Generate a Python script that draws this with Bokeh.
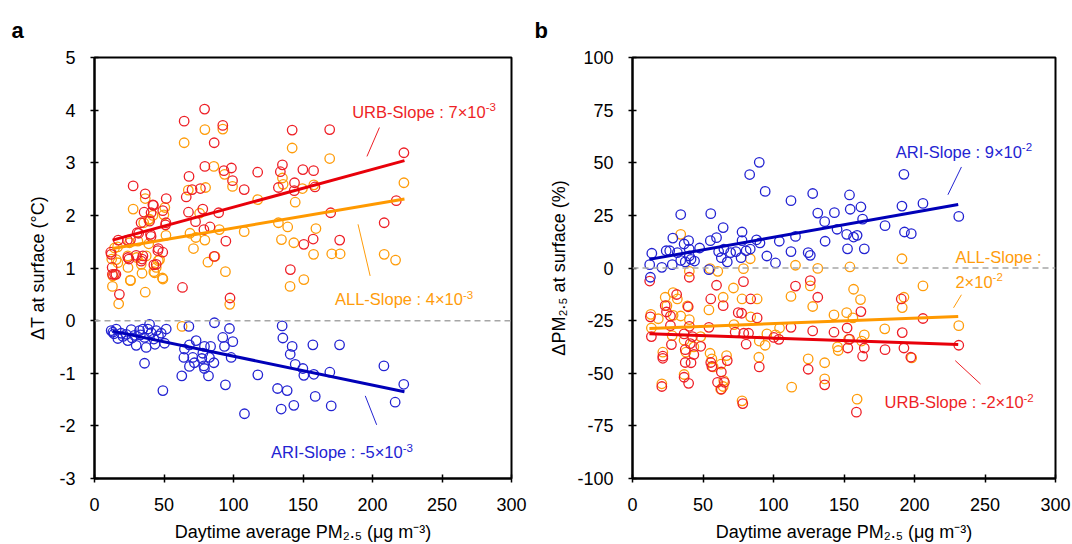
import math
from bokeh.plotting import figure
from bokeh.layouts import row
from bokeh.models import Label, Span, FixedTicker, Range1d
from bokeh.embed import file_html
from bokeh.resources import INLINE

# ---------------- data: panel a (Delta T at surface) ----------------
a_urb_x = [79.2, 64.5, 92.3, 142.2, 169.2, 86.1, 222.6, 27.8, 79.4, 98.5,
           93.1, 135.2, 133.7, 149.9, 157.6, 117.4, 99.3, 107.7, 68.0, 70.2,
           66.0, 76.2, 132.3, 143.9, 143.7, 158.6, 36.5, 51.6, 42.4, 35.7,
           40.7, 49.1, 67.6, 77.9, 89.3, 72.7, 169.9, 208.4, 217.1, 51.4,
           33.5, 78.7, 83.1, 40.7, 31.8, 17.1, 94.5, 150.6, 157.3, 176.4,
           23.6, 45.9, 49.1, 11.7, 34.2, 24.8, 86.1, 42.7, 12.7, 140.9,
           12.9, 15.4, 17.9, 63.3, 97.5, 42.0, 39.6, 30.7, 25.9, 51.1,
           40.3, 24.0, 34.8, 45.6, 44.4, 14.4, 33.6, 30.0, 12.0]
a_urb_y = [4.02, 3.79, 3.71, 3.62, 3.63, 3.38, 3.19, 2.56, 2.93, 2.90,
           2.85, 2.96, 2.83, 2.87, 2.85, 2.82, 2.66, 2.49, 2.74, 2.49,
           2.35, 2.51, 2.53, 2.62, 2.47, 2.54, 2.41, 2.32, 2.19, 2.06,
           2.05, 2.09, 2.06, 2.12, 2.05, 1.88, 2.05, 1.86, 2.28, 1.86,
           1.86, 1.73, 1.78, 1.60, 1.66, 1.53, 1.51, 1.45, 1.55, 1.53,
           1.53, 1.37, 1.30, 1.30, 1.17, 1.17, 1.22, 1.06, 1.01, 0.97,
           0.88, 0.88, 0.50, 0.63, 0.43, 2.20, 1.89, 1.67, 1.54, 1.82,
           1.64, 1.20, 1.23, 1.33, 1.07, 0.88, 1.13, 1.24, 1.26]

a_all_x = [64.5, 79.4, 92.3, 142.2, 169.2, 222.6, 85.9, 93.6, 99.3, 135.2,
           135.7, 149.6, 157.8, 67.5, 79.9, 117.4, 144.4, 27.8, 36.5, 50.6,
           39.0, 35.4, 49.9, 68.7, 75.6, 89.8, 107.7, 132.3, 139.0, 159.3,
           134.5, 143.4, 157.6, 170.7, 176.7, 208.4, 216.6, 71.2, 79.4, 72.9,
           81.6, 86.6, 51.4, 45.9, 42.7, 34.2, 25.8, 48.9, 12.9, 36.5,
           17.4, 97.3, 94.2, 140.7, 150.6, 63.0, 12.4, 16.6, 24.1, 30.3,
           39.0, 42.0, 39.6, 14.4, 15.6, 25.2, 31.2, 24.0, 37.2, 46.8,
           16.8, 33.6, 44.4, 25.9, 43.2, 49.2, 13.2]
a_all_y = [3.38, 3.63, 3.64, 3.28, 3.08, 2.62, 2.93, 2.78, 2.55, 2.71,
           2.59, 2.51, 2.58, 2.48, 2.53, 2.30, 2.25, 2.12, 2.32, 2.15,
           1.92, 1.86, 2.01, 1.66, 2.04, 1.73, 1.69, 1.86, 1.78, 1.75,
           1.54, 1.48, 1.26, 1.27, 1.27, 1.26, 1.15, 1.37, 1.53, 1.58,
           1.11, 1.22, 1.62, 1.14, 0.93, 0.90, 0.77, 0.81, 0.65, 0.54,
           0.32, 0.31, 0.93, 0.65, 0.78, -0.11, 1.17, 1.40, 1.01, 1.20,
           1.46, 2.00, 1.93, 1.38, 1.16, 1.48, 1.51, 1.23, 1.23, 1.16,
           1.10, 1.07, 1.01, 0.76, 0.91, 0.79, 0.85]

a_ari_x = [12.0, 13.2, 15.6, 16.8, 19.2, 22.8, 24.0, 26.4, 28.8, 30.0,
           32.4, 34.8, 36.0, 37.2, 38.4, 39.6, 40.8, 42.7, 44.4, 48.0,
           50.4, 51.6, 36.0, 49.2, 67.9, 86.3, 97.1, 92.3, 99.5, 73.1,
           68.3, 79.1, 83.5, 93.5, 64.7, 77.9, 64.3, 70.7, 77.2, 82.7,
           98.3, 85.9, 71.9, 68.3, 78.7, 79.1, 62.8, 82.0, 94.2, 117.5,
           107.9, 135.0, 135.5, 142.2, 157.1, 176.3, 140.8, 144.4, 149.9, 150.6,
           157.8, 169.3, 208.2, 222.5, 131.7, 138.6, 158.8, 143.4, 134.3, 170.3,
           216.3, 14.0, 20.5, 27.0, 33.0, 46.0, 43.5]
a_ari_y = [-0.19, -0.22, -0.16, -0.34, -0.24, -0.26, -0.38, -0.17, -0.28, -0.47,
           -0.19, -0.16, -0.32, -0.51, -0.16, -0.07, -0.23, -0.35, -0.19, -0.24,
           -0.43, -0.16, -0.81, -1.33, -0.11, -0.04, -0.15, -0.32, -0.40, -0.38,
           -0.46, -0.49, -0.49, -0.49, -0.54, -0.62, -0.70, -0.70, -0.72, -0.70,
           -0.70, -0.80, -0.80, -0.87, -0.86, -0.91, -1.05, -1.05, -1.22, -1.03,
           -1.77, -0.10, -0.33, -0.49, -0.46, -0.46, -0.64, -0.83, -0.91, -1.04,
           -1.02, -0.98, -0.86, -1.21, -1.29, -1.33, -1.44, -1.61, -1.68, -1.62,
           -1.55, -0.25, -0.30, -0.33, -0.27, -0.29, -0.45]

# fitted lines, panel a (end points)
a_fit_x = [13, 223]
a_fit_urb = [1.53, 3.04]
a_fit_all = [1.37, 2.31]
a_fit_ari = [-0.20, -1.35]

# ---------------- data: panel b (Delta PM2.5 at surface) ----------------
b_ari_x = [89.9, 83.1, 192.5, 94.1, 127.8, 153.9, 112.4, 206.0, 191.1, 162.0,
           154.4, 131.4, 143.2, 34.2, 55.5, 231.4, 163.2, 136.3, 179.1, 145.1,
           64.3, 192.9, 197.7, 77.7, 151.9, 159.3, 156.8, 115.6, 59.6, 28.6,
           55.2, 39.8, 88.0, 136.6, 104.1, 90.4, 77.7, 13.7, 23.9, 26.4,
           36.6, 40.2, 47.6, 31.8, 112.4, 152.5, 164.4, 124.6, 126.1, 95.3,
           61.1, 64.8, 69.6, 73.3, 77.0, 80.6, 83.5, 63.0, 67.2, 101.4,
           12.2, 20.8, 28.2, 37.4, 44.0, 54.2, 12.7, 40.3, 41.5, 34.2]
b_ari_y = [50.2, 44.4, 44.5, 36.4, 35.4, 34.7, 32.0, 30.7, 29.4, 29.0,
           27.9, 26.1, 26.3, 25.4, 25.8, 24.5, 23.2, 22.0, 20.1, 18.4,
           19.2, 17.1, 16.3, 17.1, 16.0, 15.5, 14.7, 15.0, 14.4, 14.2,
           13.0, 13.0, 13.4, 12.7, 12.7, 11.9, 13.0, 7.0, 8.2, 8.2,
           11.4, 9.0, 9.5, 7.3, 7.8, 9.1, 9.1, 7.3, 6.0, 5.7,
           7.8, 9.0, 7.3, 7.8, 4.9, 8.2, 9.0, 4.9, 2.9, 2.4,
           1.6, 0.3, 1.6, 2.9, 3.3, -0.8, -4.4, 5.7, 4.1, 3.6]

b_all_x = [34.2, 83.5, 191.1, 115.6, 154.2, 131.4, 55.0, 78.7, 60.5, 40.3,
           126.1, 206.0, 156.8, 71.6, 28.8, 23.2, 31.8, 64.3, 77.7, 88.4,
           112.4, 161.7, 192.5, 191.3, 127.8, 24.4, 54.2, 28.8, 13.0, 39.0,
           34.2, 40.3, 18.3, 142.9, 151.9, 156.3, 231.4, 178.9, 104.3, 72.0,
           83.8, 48.4, 95.3, 101.4, 164.4, 162.5, 153.2, 89.9, 94.1, 13.4,
           28.1, 36.6, 43.5, 145.4, 145.9, 198.0, 89.6, 124.6, 55.0, 56.3,
           66.7, 62.8, 136.3, 37.9, 21.5, 36.6, 136.3, 57.2, 20.8, 64.7,
           64.3, 112.9, 77.7, 159.3, 62.5]
b_all_y = [16.0, 4.4, 4.4, 1.3, 0.5, -0.2, -0.3, -0.3, -1.6, -1.6,
           -8.5, -8.5, -10.1, -9.5, -11.7, -13.9, -14.7, -13.9, -14.7, -14.7,
           -13.5, -15.0, -13.9, -18.8, -18.3, -17.9, -19.9, -22.5, -22.0, -18.0,
           -22.8, -24.5, -24.1, -22.3, -21.2, -23.7, -27.4, -28.9, -28.5, -26.9,
           -23.2, -32.6, -31.3, -31.8, -31.8, -34.7, -33.9, -34.7, -36.7, -28.5,
           -32.1, -34.3, -37.5, -37.5, -39.2, -42.7, -42.4, -43.2, -40.5, -43.2,
           -41.6, -45.7, -45.0, -40.0, -40.0, -50.6, -52.7, -47.0, -55.0, -53.5,
           -56.3, -56.6, -63.1, -62.3, -57.6]

b_urb_x = [12.2, 40.3, 78.7, 126.1, 59.6, 115.6, 31.3, 55.5, 83.8, 131.4,
           190.6, 64.3, 23.2, 39.5, 24.1, 162.0, 77.4, 75.0, 88.4, 12.7,
           26.9, 206.0, 112.4, 54.2, 26.9, 40.3, 152.2, 72.8, 78.9, 82.3,
           127.8, 142.9, 191.3, 13.4, 36.6, 42.5, 100.2, 103.8, 153.9, 231.4,
           27.6, 80.6, 41.0, 48.4, 152.7, 164.4, 179.1, 192.5, 37.4, 43.5,
           197.4, 163.2, 21.5, 21.5, 41.5, 37.4, 67.2, 55.5, 56.3, 89.9,
           124.6, 63.0, 36.6, 60.3, 39.8, 65.2, 136.3, 20.8, 63.0, 78.2,
           158.8]
b_urb_y = [-6.2, -4.4, -6.5, -6.0, -8.2, -8.6, -12.6, -14.7, -14.7, -13.9,
           -14.7, -17.9, -17.9, -18.4, -20.9, -20.7, -21.5, -21.2, -23.7, -23.2,
           -22.8, -24.0, -28.2, -28.2, -27.4, -27.7, -28.5, -30.5, -31.0, -31.0,
           -29.9, -30.5, -30.7, -32.6, -31.3, -32.6, -33.0, -33.9, -33.8, -36.7,
           -36.4, -36.2, -35.9, -37.2, -38.0, -38.0, -38.8, -38.0, -38.8, -41.1,
           -42.4, -41.9, -41.9, -42.9, -45.0, -44.9, -44.0, -44.9, -46.8, -47.0,
           -48.1, -49.4, -51.9, -54.3, -54.8, -54.3, -55.5, -56.3, -57.6, -64.4,
           -68.5]

b_fit_x = [12, 231]
b_fit_ari = [4.1, 30.2]
b_fit_all = [-28.7, -23.0]
b_fit_urb = [-31.2, -36.4]

# ticks and axis titles
x_ticks = [0, 50, 100, 150, 200, 250, 300]
a_y_ticks = [-3, -2, -1, 0, 1, 2, 3, 4, 5]
b_y_ticks = [-100, -75, -50, -25, 0, 25, 50, 75, 100]
x_title = "Daytime average PM\u2082.\u2085 (\u03bcg m\u207b\u00b3)"
a_y_title = "\u0394T at surface (\u00b0C)"
b_y_title = "\u0394PM\u2082.\u2085 at surface (%)"

# annotations (text, exponent, anchor x/y in data units)
a_note_text = ["URB-Slope : 7\u00d710", "ALL-Slope : 4\u00d710", "ARI-Slope : -5\u00d710"]
a_note_exp = ["-3", "-3", "-3"]
a_note_x = [185.4, 173.0, 127.0]
a_note_y = [3.87, 0.31, -2.60]
a_lead_x0 = [205.0, 189.6, 194.8]
a_lead_y0 = [3.67, 1.83, -1.43]
a_lead_x1 = [196.0, 198.3, 203.0]
a_lead_y1 = [3.12, 0.85, -1.98]

b_note_text = ["ARI-Slope : 9\u00d710", "ALL-Slope :", "2\u00d710", "URB-Slope : -2\u00d710"]
b_note_exp = ["-2", "", "-2", "-2"]
b_note_x = [186.7, 229.0, 229.0, 178.8]
b_note_y = [52.9, 3.0, -8.8, -66.1]
b_lead_x0 = [233.3, 233.3, 228.9]
b_lead_y0 = [48.0, -12.7, -44.0]
b_lead_x1 = [223.7, 227.7, 246.8]
b_lead_y1 = [34.8, -18.9, -55.1]

# ---------------- styling ----------------
FONT = "Liberation Sans"
RED = "#ee1f26"
ORANGE = "#ff9c0a"
BLUE = "#2323d2"
RED_LINE = "#e8000a"
ORANGE_LINE = "#ff9900"
BLUE_LINE = "#0000b8"
GREY = "#a6a6a6"
NOTE_SIZE = 16.5
EXP_SIZE = 11.5
NOTE_DY = -5

W = {' ': 278, '(': 333, ')': 333, '-': 333, '.': 278, ':': 278, '%': 889,
     '\u00b0': 400, '\u00d7': 584, '\u0394': 668, '\u03bc': 576,
     'A': 667, 'B': 667, 'C': 722, 'D': 722, 'E': 667, 'I': 278, 'L': 556,
     'M': 833, 'P': 667, 'R': 722, 'S': 667, 'T': 611, 'U': 722,
     'a': 556, 'c': 500, 'e': 556, 'f': 278, 'g': 556, 'i': 222, 'l': 222,
     'm': 833, 'o': 556, 'p': 556, 'r': 333, 's': 500, 't': 278, 'u': 556,
     'v': 500, 'y': 500}


def tw(s, size):
    return sum(W.get(c, 556) for c in s) * size / 1000.0


FIG_H = 544
BORDER_TOP = 56
BORDER_BOTTOM = 66


class Frame:
    def __init__(self, border_left, frame_w, xr, yr):
        self.left = border_left
        self.top = BORDER_TOP
        self.w = frame_w
        self.h = FIG_H - BORDER_TOP - BORDER_BOTTOM
        self.xr = xr
        self.yr = yr

    def x(self, px):
        return self.xr[0] + (px - self.left) / self.w * (self.xr[1] - self.xr[0])

    def y(self, py):
        return self.yr[1] - (py - self.top) / self.h * (self.yr[1] - self.yr[0])

    def px(self, x):
        return self.left + (x - self.xr[0]) / (self.xr[1] - self.xr[0]) * self.w

    def py(self, y):
        return self.top + (self.yr[1] - y) / (self.yr[1] - self.yr[0]) * self.h


def make_fig(fig_w, border_left, frame_w, xr, yr, yticks,
             xtitle, ytitle, ystandoff, letter, letter_offset):
    p = figure(width=fig_w, height=FIG_H, x_range=Range1d(*xr), y_range=Range1d(*yr),
               output_backend="svg", toolbar_location=None,
               min_border_left=border_left, min_border_right=fig_w - border_left - frame_w,
               min_border_top=BORDER_TOP, min_border_bottom=BORDER_BOTTOM)
    p.xgrid.visible = False
    p.ygrid.visible = False
    p.outline_line_color = "black"
    p.outline_line_width = 2
    p.outline_line_alpha = 1
    p.background_fill_color = "white"
    p.border_fill_color = "white"
    p.xaxis.ticker = FixedTicker(ticks=x_ticks)
    p.yaxis.ticker = FixedTicker(ticks=yticks)
    p.xaxis.major_label_overrides = {t: str(t) for t in x_ticks}
    p.yaxis.major_label_overrides = {t: str(t) for t in yticks}
    for ax in (p.xaxis[0], p.yaxis[0]):
        ax.axis_line_color = "black"
        ax.axis_line_width = 2
        ax.major_tick_line_color = "black"
        ax.major_tick_line_width = 1.5
        ax.major_tick_in = 4
        ax.major_tick_out = 4
        ax.minor_tick_line_color = None
        ax.major_label_text_font = FONT
        ax.major_label_text_font_size = "18px"
        ax.major_label_text_color = "black"
        ax.axis_label_text_font = FONT
        ax.axis_label_text_font_size = "18px"
        ax.axis_label_text_font_style = "normal"
        ax.axis_label_text_color = "black"
    p.xaxis.axis_label = xtitle
    p.yaxis.axis_label = ytitle
    p.xaxis.major_label_standoff = 15
    p.xaxis.axis_label_standoff = 8
    p.yaxis.major_label_standoff = 15
    p.yaxis.axis_label_standoff = ystandoff
    p.add_layout(Span(location=0, dimension="width", line_color=GREY,
                      line_dash="6 4", line_width=1.5))
    p.title.text = letter
    p.title.text_font = FONT
    p.title.text_font_size = "22px"
    p.title.text_font_style = "bold"
    p.title.text_color = "black"
    p.title.align = "left"
    p.title.offset = letter_offset
    p.title.standoff = 30
    fr = Frame(border_left, frame_w, xr, yr)
    return p, fr


def rich(p, fr, pieces, x_px, y_px, color):
    cur = x_px
    for t, s, sh in pieces:
        t2 = t.lstrip(' ')
        cur += tw(t[:len(t) - len(t2)], s)
        if t2:
            lab = Label(x=fr.x(cur), y=fr.y(y_px + sh), text=t2,
                        text_align="left", text_baseline="alphabetic")
            lab.text_font = FONT
            lab.text_font_size = "%gpx" % s
            lab.text_color = color
            p.add_layout(lab)
        cur += tw(t2, s)


def draw_series(p, xs, ys, color):
    n = min(len(xs), len(ys))
    p.scatter(xs[:n], ys[:n], marker="circle", size=9.5, fill_color=None,
              line_color=color, line_width=1.3)


def notes(p, fr, texts, exps, xs, ys, colors):
    for t, e, x, y, c in zip(texts, exps, xs, ys, colors):
        pieces = [(t, NOTE_SIZE, 0)]
        if e:
            pieces.append((e, EXP_SIZE, -4.5))
        rich(p, fr, pieces, fr.px(x), fr.py(y) + NOTE_DY, c)


# ---------------- panel a ----------------
pa, fa = make_fig(532, 94, 417, (0, 300), (-3, 5), a_y_ticks,
                  x_title, a_y_title, 8, "a", -83)
draw_series(pa, a_all_x, a_all_y, ORANGE)
draw_series(pa, a_urb_x, a_urb_y, RED)
draw_series(pa, a_ari_x, a_ari_y, BLUE)
pa.line(a_fit_x, a_fit_all, line_color=ORANGE_LINE, line_width=3)
pa.line(a_fit_x, a_fit_urb, line_color=RED_LINE, line_width=3)
pa.line(a_fit_x, a_fit_ari, line_color=BLUE_LINE, line_width=3)
pa.segment(a_lead_x0, a_lead_y0, a_lead_x1, a_lead_y1,
           line_color=[RED, ORANGE, BLUE], line_width=1)
notes(pa, fa, a_note_text, a_note_exp, a_note_x, a_note_y, [RED, ORANGE, BLUE])

# ---------------- panel b ----------------
pb, fb = make_fig(540, 100, 423, (0, 300), (-100, 100), b_y_ticks,
                  x_title, b_y_title, 5, "b", -98)
draw_series(pb, b_all_x, b_all_y, ORANGE)
draw_series(pb, b_urb_x, b_urb_y, RED)
draw_series(pb, b_ari_x, b_ari_y, BLUE)
pb.line(b_fit_x, b_fit_all, line_color=ORANGE_LINE, line_width=3)
pb.line(b_fit_x, b_fit_urb, line_color=RED_LINE, line_width=3)
pb.line(b_fit_x, b_fit_ari, line_color=BLUE_LINE, line_width=3)
pb.segment(b_lead_x0, b_lead_y0, b_lead_x1, b_lead_y1,
           line_color=[BLUE, ORANGE, RED], line_width=1)
notes(pb, fb, b_note_text, b_note_exp, b_note_x, b_note_y, [BLUE, ORANGE, ORANGE, RED])

layout = row(pa, pb)
open("out.html", "w").write(file_html(layout, INLINE))
